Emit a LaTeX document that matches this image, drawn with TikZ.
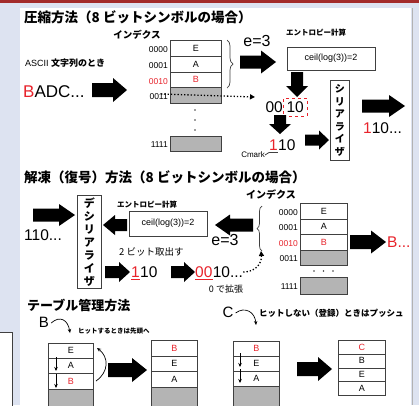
\documentclass[tikz,border=0pt]{standalone}
\usepackage{fontspec}
\setmainfont{Liberation Sans}
\newfontfamily\jp{Noto Sans CJK JP}
\usetikzlibrary{arrows.meta,decorations.pathreplacing,calc}
\definecolor{bgblue}{HTML}{DDE3F1}
\definecolor{myred}{HTML}{E8232B}
\definecolor{cellgray}{HTML}{B4B4B4}
\definecolor{edge}{HTML}{404040}
\definecolor{topred}{HTML}{A32B2B}
\newcommand\myfs[1]{\fontsize{#1}{#1}\selectfont}
\tikzset{
  pics/fatarrow/.style n args={4}{code={
    \fill[black] (0,-#2) -- ({#1-#4},-#2) -- ({#1-#4},-#3) -- (#1,0) -- ({#1-#4},#3) -- ({#1-#4},#2) -- (0,#2) -- cycle;}},
  title/.style={font=\jp\bfseries\myfs{13.5}, anchor=west, inner sep=0},
  jpb/.style={font=\jp\bfseries, inner sep=0},
  box/.style={draw=edge, line width=0.8pt, fill=white, inner sep=0},
  cell/.style={draw=edge, line width=0.7pt, inner sep=0, anchor=north west, font=\myfs{9}},
  gcell/.style={cell, fill=cellgray},
  idx/.style={font=\myfs{8.5}, anchor=east, inner sep=0},
  big/.style={font=\myfs{15.5}, inner sep=0, anchor=west},
  dotarrow/.style={dotted, line width=1.3pt, -{Triangle[length=5pt,width=5pt]}},
  thin arrow/.style={line width=0.7pt, -{Stealth[length=4pt,width=3.5pt]}},
}
\begin{document}
\begin{tikzpicture}[x=1pt,y=-1pt]
\useasboundingbox (0,0) rectangle (419,405);
\fill[bgblue] (0,0) rectangle (419,405);
\fill[topred] (0,0) rectangle (419,2.5);
\fill[white] (20,8) rectangle (411,405);
\draw[gray!60, line width=0.6pt] (412,8) -- (412,405);
\draw[edge, fill=white, line width=0.8pt] (-2,332) rectangle (12,407);

% ===== Section 1 =====
\node[title] (t1) at (24,17) {圧縮方法（8 ビットシンボルの場合）};
\node[jpb, font=\jp\bfseries\myfs{9.5}] (idx1) at (137,35) {インデクス};
\node[inner sep=0, anchor=west, font=\myfs{9}] (ascii) at (25,63) {ASCII {\jp\bfseries 文字列のとき}};
\node[inner sep=0, anchor=west, font=\myfs{17}] (badc) at (23,92) {\textcolor{myred}{B}ADC...};
\pic at (92,90) {fatarrow={35}{7}{12}{14}};

\node[idx] (l10) at (168,50) {0000};
\node[idx] (l11) at (168,66) {0001};
\node[idx, text=myred] (l12) at (168,81.5) {0010};
\node[idx] (l13) at (168,97) {0011};
\node[cell, minimum width=51, minimum height=15.75] (c10) at (170,40) {E};
\node[cell, minimum width=51, minimum height=15.75] (c11) at (170,55.75) {A};
\node[cell, minimum width=51, minimum height=15.75, text=myred] (c12) at (170,71.5) {B};
\node[gcell, minimum width=51, minimum height=15.75] (c13) at (170,87.25) {};
\foreach \yy in {110,120,130} \fill[edge] (195,\yy) circle (0.9);
\node[gcell, minimum width=51, minimum height=15] (c1f) at (170,136) {};
\node[idx] (l1f) at (168,144.5) {1111};

\draw[decorate, decoration={brace, amplitude=6pt}, line width=0.7pt, edge] (227,40) -- (227,88);
\node[inner sep=0, font=\myfs{16}] (e1) at (257,41) {e=3};
\pic at (240,62) {fatarrow={36}{6.5}{11.5}{15}};
\node[jpb, font=\jp\bfseries\myfs{7.5}] (ent1) at (316,33) {エントロピー計算};
\node[box, minimum width=88, minimum height=23, font=\myfs{9}] (ceil1) at (331,58.5) {ceil(log(3))=2};
\pic[rotate=-90] at (297,72) {fatarrow={25}{6}{11}{11}};

\node[inner sep=0, anchor=east, font=\myfs{15.5}] (zz1) at (283,107) {00};
\node[draw=myred, dashed, line width=0.8pt, inner xsep=3.2pt, inner ysep=3.5pt, anchor=west, font=\myfs{15.5}] (oz1) at (283,107) {10};
\draw[dotarrow] (161,94) -- (255,97);

\node[box, minimum width=19, minimum height=80, anchor=north west, align=center, font=\jp\bfseries\fontsize{10}{12.5}\selectfont] (ser) at (330,80) {シ\\リ\\ア\\ラ\\イ\\ザ};
\pic at (362,106) {fatarrow={43}{6.5}{11}{16}};
\node[big] (out1) at (363,128) {\textcolor{myred}{1}10...};

\pic[rotate=-90] at (280,115) {fatarrow={19}{6}{11}{10}};
\node[big, text=myred] (o1) at (269,145) {1};
\node[big] (o1b) at (o1.east) {10};
\draw[edge, line width=0.8pt] ([yshift=-2pt]o1.south west) -- ([yshift=-2pt]o1.south east);
\node[inner sep=0, anchor=east, font=\myfs{8}] (cm) at (265,155) {Cmark};
\draw[edge, line width=0.8pt] (cm.east) -- ([yshift=-2pt]o1.south west);
\pic at (305,140) {fatarrow={24}{5.5}{9.5}{10}};

% ===== Section 2 =====
\node[title] (t2) at (24,177) {解凍（復号）方法（8 ビットシンボルの場合）};
\node[box, minimum width=24, minimum height=93, anchor=north west, align=center, font=\jp\bfseries\fontsize{11}{13}\selectfont] (deser) at (77,195) {デ\\シ\\リ\\ア\\ラ\\イ\\ザ};
\pic at (33,215) {fatarrow={42}{6.5}{11}{16}};
\node[big] (in2) at (24,235) {110...};
\node[jpb, font=\jp\bfseries\myfs{7.5}] (ent2) at (147,205) {エントロピー計算};
\node[box, minimum width=78, minimum height=25, font=\myfs{9}] (ceil2) at (168,223.5) {ceil(log(3))=2};
\pic[rotate=180] at (127,225) {fatarrow={24}{6}{10}{12}};
\pic[rotate=180] at (253,225) {fatarrow={38}{6.5}{10.5}{15}};
\node[inner sep=0, font=\myfs{16}] (e2) at (225,240) {e=3};
\node[inner sep=0, anchor=west, font=\jp\myfs{9.5}] (take) at (119,252) {2 ビット取出す};

\node[jpb, font=\jp\bfseries\myfs{10}] (idx2) at (271,195) {インデクス};
\node[idx] (l20) at (298,212.5) {0000};
\node[idx] (l21) at (298,228) {0001};
\node[idx, text=myred] (l22) at (298,243.5) {0010};
\node[idx] (l23) at (298,259) {0011};
\node[cell, minimum width=47, minimum height=15.5] (c20) at (300,203) {E};
\node[cell, minimum width=47, minimum height=15.5] (c21) at (300,218.5) {A};
\node[cell, minimum width=47, minimum height=15.5, text=myred] (c22) at (300,234) {B};
\node[gcell, minimum width=47, minimum height=15.5] (c23) at (300,249.5) {};
\foreach \xx in {314,323.5,333} \fill[edge] (\xx,271) circle (0.9);
\node[gcell, minimum width=47, minimum height=17] (c2f) at (300,277) {};
\node[idx] (l2f) at (298,287) {1111};
\draw[decorate, decoration={brace, amplitude=5pt}, line width=0.7pt, edge] (262,251) -- (262,206);
\pic at (350,242) {fatarrow={36}{7}{11.5}{15}};
\node[big, text=myred] (out2) at (387,242) {B...};

\pic at (105,272) {fatarrow={25}{6}{10}{11}};
\node[big, text=myred] (o2) at (131,272) {1};
\node[big] (o2b) at (o2.east) {10};
\draw[myred, line width=0.8pt] ([yshift=-2pt]o2.south west) -- ([yshift=-2pt]o2.south east);
\pic at (171,272) {fatarrow={24}{6}{10}{11}};
\node[big, text=myred] (z2) at (195,272) {00};
\node[big] (z2b) at (z2.east) {10...};
\draw[myred, line width=0.8pt] ([yshift=-2pt]z2.south west) -- ([yshift=-2pt]z2.south east);
\node[inner sep=0, font=\jp\myfs{9}] (ext) at (226,289) {0 で拡張};
\draw[dotarrow] (z2b.east) .. controls (257,272) and (262,262) .. (261,251);

% ===== Section 3 =====
\node[title, font=\jp\bfseries\myfs{13}] (t3) at (27,305) {テーブル管理方法};
\node[inner sep=0, font=\myfs{15}] (bin) at (44,322) {B};
\draw[thin arrow] (bin.east) ++(2pt,-1pt) .. controls (60,315) and (68,320) .. (70,333);
\node[jpb, anchor=west, font=\jp\bfseries\myfs{6.5}] (hit) at (78,331) {ヒットするときは先頭へ};

\node[cell, minimum width=45, minimum height=15] (a0) at (48,343) {E};
\node[cell, minimum width=45, minimum height=15] (a1) at (48,358) {A};
\node[cell, minimum width=45, minimum height=16, text=myred] (a2) at (48,373) {B};
\node[gcell, minimum width=45, minimum height=18] (a3) at (48,389) {};
\draw[thin arrow] (56,357) -- (56,371);
\draw[thin arrow] (56,374) -- (56,388);
\draw[thin arrow] (96,381) .. controls (109,372) and (109,357) .. (97,348);
\pic at (108,370) {fatarrow={39}{7}{12}{15}};
\node[cell, minimum width=46, minimum height=16, text=myred] (b0) at (151,340) {B};
\node[cell, minimum width=46, minimum height=15] (b1) at (151,356) {E};
\node[cell, minimum width=46, minimum height=16] (b2) at (151,371) {A};
\node[gcell, minimum width=46, minimum height=20] (b3) at (151,387) {};

\node[inner sep=0, font=\myfs{15}] (cin) at (228,312) {C};
\draw[thin arrow] (cin.east) ++(2pt,-1pt) .. controls (245,306) and (255,312) .. (256,325);
\node[jpb, anchor=west, font=\jp\bfseries\myfs{8.5}] (nohit) at (259,313) {ヒットしない（登録）ときはプッシュ};

\node[cell, minimum width=46, minimum height=15, text=myred] (d0) at (233,341) {B};
\node[cell, minimum width=46, minimum height=15] (d1) at (233,356) {E};
\node[cell, minimum width=46, minimum height=15] (d2) at (233,371) {A};
\node[gcell, minimum width=46, minimum height=21] (d3) at (233,386) {};
\draw[thin arrow] (240,353) -- (240,367);
\draw[thin arrow] (240,369) -- (240,383);
\pic at (297,369) {fatarrow={35}{7}{12}{14}};
\node[cell, minimum width=47, minimum height=13.5, text=myred] (e0) at (338,340) {C};
\node[cell, minimum width=47, minimum height=14] (e1c) at (338,353.5) {B};
\node[cell, minimum width=47, minimum height=13.5] (e2c) at (338,367.5) {E};
\node[cell, minimum width=47, minimum height=14] (e3c) at (338,381) {A};
\end{tikzpicture}
\end{document}
